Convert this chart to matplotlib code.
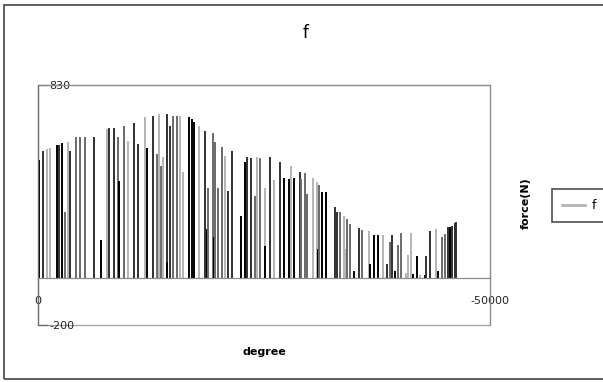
import matplotlib
matplotlib.use("Agg")
import matplotlib.pyplot as plt
from matplotlib.lines import Line2D
from matplotlib.patches import Rectangle

# strokes of the "f" series: position (degree) and peak force (N)
degree = [140, 590, 1000, 1330, 2070, 2360, 2660, 3020, 3290, 3540,
          4210, 4650, 5240, 6230, 6980, 7610, 7830, 8450, 8890, 8940,
          9560, 9930, 10600, 11040, 11880, 12070, 12700, 13140, 13360, 13620,
          13810, 14250, 14300, 14620, 14910, 15360, 15720, 16090, 16750, 17050,
          17310, 17790, 18490, 18700, 18860, 19340, 19500, 19600, 19960, 20370,
          20740, 21040, 21480, 22480, 22920, 23140, 23580, 24030, 24250, 24610,
          25060, 25100, 25690, 26160, 26720, 27160, 27820, 27980, 28270, 28930,
          29120, 29530, 29750, 30410, 30860, 30950, 31080, 31440, 31890, 32810,
          33070, 33360, 33850, 34020, 34210, 34470, 34910, 35510, 35840, 36570,
          36680, 37170, 37610, 38170, 38590, 38900, 39120, 39450, 39830, 40110,
          40670, 40930, 41220, 41490, 41930, 42300, 42770, 42960, 43320, 43990,
          44250, 44730, 44980, 45360, 45540, 45840, 46090, 46280]
force = [509, 548, 555, 558, 572, 573, 581, 283, 587, 548,
         608, 607, 605, 608, 163, 641, 644, 645, 605, 419,
         655, 591, 665, 577, 691, 558, 698, 533, 705, 483,
         523, 705, 69, 655, 698, 698, 698, 455, 691, 686,
         670, 655, 634, 211, 390, 624, 176, 584, 386, 565,
         527, 376, 548, 269, 498, 523, 515, 355, 523, 515,
         386, 141, 523, 423, 501, 429, 425, 483, 433, 458,
         425, 452, 362, 429, 412, 126, 400, 369, 369, 305,
         283, 286, 266, 126, 255, 233, 30, 215, 209, 205,
         61, 186, 186, 186, 61, 157, 186, 30, 143, 193,
         25, 100, 193, 20, 94, 15, 15, 94, 205, 212,
         33, 176, 190, 219, 219, 223, 237, 243]

x_ticks = [0, 50000]
x_ticklabels = ["0", "-50000"]
y_ticks = [-200, 830]
y_ticklabels = ["-200", "830"]

# grey level of each stroke (k=black, d=dark, g=grey, l=light)
shade = ("kdllkdkgld" "gggdklddgk" "glddlkdglg" "ldkdggllkk" "kldkggkggg"
         "lddkkddglg" "lkdldkklkd" "gggllkgkkd" "dgllggkdgl" "kkkldgdkgg"
         "lllkklkddl" "kggdkddd")
greys = {"k": "#000000", "d": "#303030", "g": "#6a6a6a", "l": "#b4b4b4"}

fig = plt.figure(figsize=(6.03, 3.82), dpi=100)
ax = fig.add_axes([38 / 603, 1 - 325 / 382, 452 / 603, 240 / 382])

ax.vlines(degree, 0, force, colors=[greys[s] for s in shade], lw=1.4)

ax.set_xlim(0, 50000)
ax.set_ylim(-200, 830)

ax.spines["bottom"].set_position(("data", 0))
for side in ["left", "top", "right", "bottom"]:
    ax.spines[side].set_color("#8c8c8c")
    ax.spines[side].set_linewidth(0.9)
ax.spines["left"].set_color("#6a6a6a")
ax.add_patch(Rectangle((0, 0), 1, 1, transform=ax.transAxes, fill=False,
                       ec="#a0a0a0", lw=0.9, clip_on=False))

ax.set_xticks(x_ticks)
ax.set_xticklabels(x_ticklabels)
ax.set_yticks(y_ticks)
ax.set_yticklabels(y_ticklabels)
ax.tick_params(axis="x", length=0, pad=13, labelsize=8, labelcolor="#222222")
ax.tick_params(axis="y", direction="in", length=7, width=0.9, color="#666666",
               pad=-8, labelsize=8, labelcolor="#222222")
for lbl in ax.get_yticklabels():
    lbl.set_horizontalalignment("left")

fig.text(306 / 603, 1 - 33 / 382, "f", ha="center", va="center", fontsize=12)
fig.text(264 / 603, 1 - 352 / 382, "degree", ha="center", va="center",
         fontsize=8, fontweight="bold")
fig.text(526 / 603, 1 - 203 / 382, "force(N)", ha="center", va="center",
         rotation=90, fontsize=8, fontweight="bold")

handle = Line2D([], [], color="#b4b4b4", lw=2)
leg = fig.legend([handle], ["f"], loc="upper left",
                 bbox_to_anchor=(552 / 603, 1 - 189 / 382), borderaxespad=0,
                 fontsize=9, handlelength=1.8, handletextpad=0.6, borderpad=0.8,
                 fancybox=False, frameon=True)
leg.get_frame().set_edgecolor("#222222")
leg.get_frame().set_linewidth(1.2)

# outer chart frame
fig.patches.append(Rectangle((4 / 603, 1 - 379 / 382), 1.2, 374 / 382,
                             transform=fig.transFigure, fill=False,
                             ec="#444444", lw=1.2))

fig.savefig("out.png", dpi=100)
